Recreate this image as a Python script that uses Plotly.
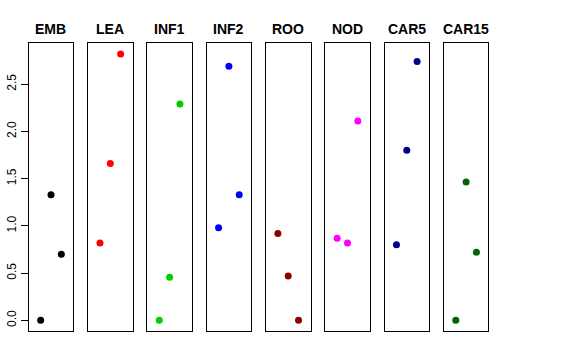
import plotly.graph_objects as go

categories = ["EMB", "LEA", "INF1", "INF2", "ROO", "NOD", "CAR5", "CAR15"]
emb = [0.0, 1.33, 0.70]
lea = [0.82, 1.66, 2.82]
inf1 = [0.0, 0.455, 2.29]
inf2 = [0.98, 2.69, 1.33]
roo = [0.92, 0.47, 0.0]
nod = [0.87, 0.82, 2.11]
car5 = [0.80, 1.80, 2.74]
car15 = [0.0, 1.465, 0.72]
series = [emb, lea, inf1, inf2, roo, nod, car5, car15]
colors = ["#000000", "#FF0000", "#00CD00", "#0000FF", "#8B0000", "#FF00FF", "#00008B", "#006400"]
xpos = [1, 2, 3]

W, H = 576, 360
left0, pw, step = 28.7, 44.6, 59.3
ytop, ybot = 43.3, 331.0

ymax = max(max(s) for s in series)
pad = 0.04 * ymax
yr = [-pad, ymax + pad]

fig = go.Figure()
for i, (name, vals, col) in enumerate(zip(categories, series, colors)):
    n = "" if i == 0 else str(i + 1)
    fig.add_trace(go.Scatter(x=xpos, y=vals, mode="markers",
                             marker=dict(color=col, size=7, line=dict(width=0)),
                             xaxis="x" + n, yaxis="y" + n, showlegend=False))
    x0 = (left0 + i * step) / W
    x1 = (left0 + i * step + pw) / W
    fig.update_layout(**{
        "xaxis" + n: dict(domain=[x0, x1], range=[-0.16, 4.16], showgrid=False,
                          zeroline=False, showticklabels=False, ticks="",
                          showline=True, mirror=True, linecolor="black", linewidth=1,
                          anchor="y" + n, automargin=False),
        "yaxis" + n: dict(domain=[1 - ybot / H, 1 - ytop / H], range=yr, showgrid=False,
                          zeroline=False, showline=True, mirror=True, linecolor="black",
                          linewidth=1, anchor="x" + n, automargin=False,
                          showticklabels=(i == 0), ticks="outside" if i == 0 else "",
                          ticklen=7, tickcolor="black",
                          tickvals=[0, 0.5, 1.0, 1.5, 2.0, 2.5], tickformat=".1f",
                          tickangle=-90, tickfont=dict(size=12, color="black")),
    })
    fig.add_annotation(x=(x0 + x1) / 2, y=1 - 29 / H, xref="paper", yref="paper",
                       text="<b>" + name + "</b>", showarrow=False,
                       font=dict(size=14, color="black"), xanchor="center", yanchor="middle")

fig.update_layout(width=W, height=H, margin=dict(l=0, r=0, t=0, b=0, autoexpand=False),
                  paper_bgcolor="white", plot_bgcolor="white",
                  font=dict(family="Liberation Sans, Arial, sans-serif", color="black"))
fig.write_html("out.html", config={"displayModeBar": False},
               post_script="document.body.style.margin='0';")
